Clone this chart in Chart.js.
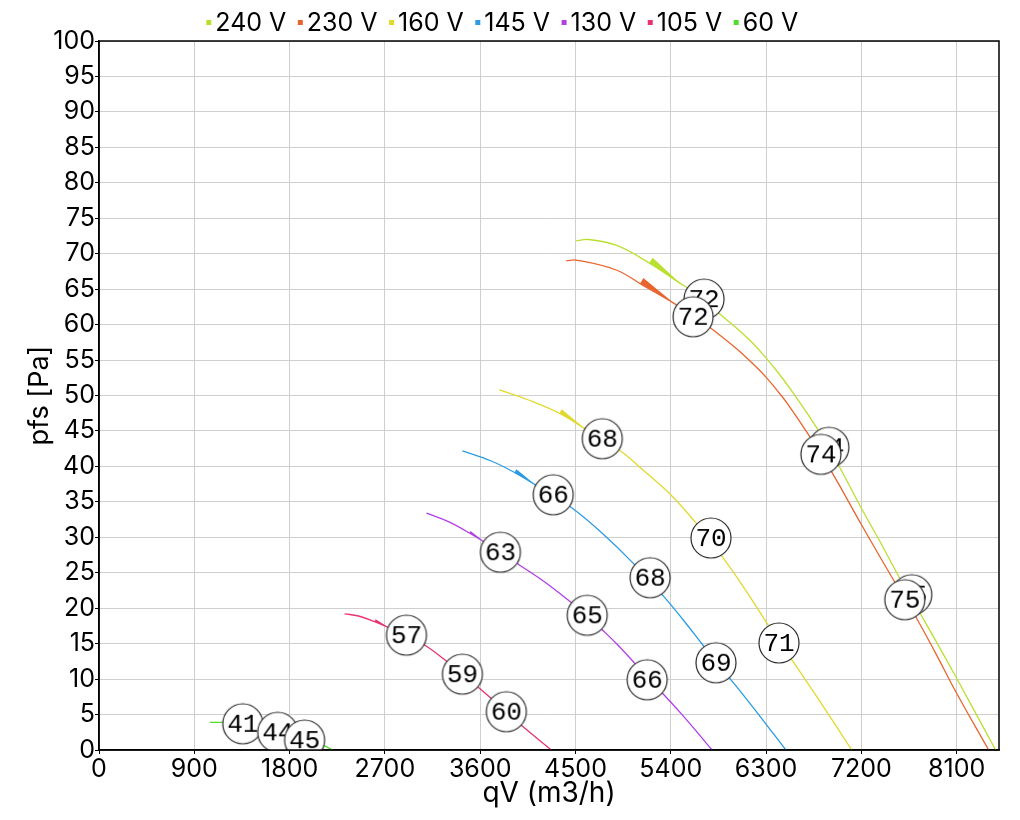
<!DOCTYPE html>
<html>
<head>
<meta charset="utf-8">
<script src="https://cdn.jsdelivr.net/npm/chart.js@4.4.1/dist/chart.umd.min.js"></script>
<style>
  html, body { margin: 0; padding: 0; background: #fff; }
  #wrap { width: 1020px; height: 820px; }
</style>
</head>
<body>
<div id="wrap"><canvas id="chart" width="1020" height="820"></canvas></div>
<script>
// Fan curves: pfs [Pa] vs qV (m3/h), one curve per supply voltage

const seriesNames = ['240 V', '230 V', '160 V', '145 V', '130 V', '105 V', '60 V'];
const seriesColors = ['#b9e02e', '#e8652f', '#e2d92e', '#2c9be4', '#b23ee6', '#e8336d', '#4fdd2e'];

const qv240 = [4507, 4620, 4884, 5196, 5450, 5714, 5856, 6060, 6180, 6299, 6420, 6540, 6780, 6987, 7204, 7380, 7553, 7770, 8090, 8468];
const pfs240 = [71.8, 72.0, 71.2, 68.7, 66.2, 63.6, 61.6, 59.0, 57.3, 55.3, 53.1, 50.7, 45.4, 40.1, 34.0, 29.3, 24.5, 18.9, 10.4, 0];

const qv230 = [4413, 4507, 4884, 5130, 5431, 5601, 5761, 6030, 6160, 6299, 6400, 6500, 6704, 6921, 7204, 7487, 7713, 7900, 8100, 8402];
const pfs230 = [69.0, 69.1, 67.7, 65.6, 63.0, 61.4, 59.7, 56.5, 54.7, 52.6, 50.8, 48.9, 44.4, 39.2, 31.7, 24.4, 18.8, 13.7, 8.0, 0];

const qv160 = [3781, 4050, 4347, 4602, 4913, 5160, 5413, 5639, 5884, 6100, 6308, 6544, 6820, 7110];
const pfs160 = [50.8, 49.4, 47.5, 45.2, 42.3, 39.2, 35.8, 32.0, 27.3, 22.7, 17.9, 12.7, 6.6, 0];

const qv145 = [3432, 3700, 3942, 4130, 4470, 4750, 5035, 5337, 5520, 5714, 5969, 6230, 6487];
const pfs145 = [42.2, 40.8, 39.0, 37.3, 34.1, 30.6, 26.5, 21.6, 18.3, 14.6, 9.9, 5.0, 0];

const qv130 = [3093, 3300, 3498, 3791, 3970, 4200, 4470, 4611, 4743, 4900, 5177, 5500, 5790];
const pfs130 = [33.4, 32.2, 30.6, 27.9, 26.1, 23.8, 20.7, 19.0, 17.1, 14.8, 10.3, 5.1, 0];

const qv105 = [2320, 2450, 2603, 2744, 2904, 3074, 3250, 3432, 3593, 3847, 3989, 4272];
const pfs105 = [19.2, 18.9, 18.1, 17.2, 16.1, 14.8, 12.9, 10.7, 8.7, 5.4, 3.5, 0];

const qv60 = [1047, 1150, 1300, 1424, 1580, 1726, 1952, 2100, 2207];
const pfs60 = [3.9, 3.9, 3.8, 3.5, 3.0, 2.3, 1.3, 0.75, 0];

// noise level bubbles (dB) on each curve
const mark240X = [5714, 6893, 7676];
const mark240Y = [63.6, 42.7, 21.9];
const mark240Lbl = ['72', '74', '75'];
const mark230X = [5611, 6818, 7610];
const mark230Y = [61.1, 41.7, 21.2];
const mark230Lbl = ['72', '74', '75'];
const mark160X = [4753, 5780, 6422];
const mark160Y = [43.9, 29.9, 15.1];
const mark160Lbl = ['68', '70', '71'];
const mark145X = [4290, 5205, 5827];
const mark145Y = [36.0, 24.3, 12.3];
const mark145Lbl = ['66', '68', '69'];
const mark130X = [3791, 4611, 5177];
const mark130Y = [27.9, 19.0, 9.9];
const mark130Lbl = ['63', '65', '66'];
const mark105X = [2904, 3432, 3847];
const mark105Y = [16.2, 10.7, 5.4];
const mark105Lbl = ['57', '59', '60'];
const mark60X = [1358, 1688, 1942];
const mark60Y = [3.7, 2.5, 1.4];
const mark60Lbl = ['41', '44', '45'];

// direction wedges: [qV, pfs] start -> tip
const arrowFrom = [[5196, 68.7], [5111, 65.8], [4347, 47.5], [3923, 39.1], [3498, 30.6], [2603, 18.1], null];
const arrowTo = [[5507, 65.6], [5431, 63.0], [4583, 45.4], [4130, 37.3], [3621, 29.6], [2744, 17.2], null];

const xMax = 8500;
const xTickVals = [0, 900, 1800, 2700, 3600, 4500, 5400, 6300, 7200, 8100];
const yMax = 100, yStep = 5;

const lineX = [qv240, qv230, qv160, qv145, qv130, qv105, qv60];
const lineY = [pfs240, pfs230, pfs160, pfs145, pfs130, pfs105, pfs60];
const markX = [mark240X, mark230X, mark160X, mark145X, mark130X, mark105X, mark60X];
const markY = [mark240Y, mark230Y, mark160Y, mark145Y, mark130Y, mark105Y, mark60Y];
const markLbl = [mark240Lbl, mark230Lbl, mark160Lbl, mark145Lbl, mark130Lbl, mark105Lbl, mark60Lbl];

const FONT = 'Inter';
const LEGEND_FONT = 25;

function makeBubble(text) {
  const c = document.createElement('canvas');
  c.width = 44; c.height = 44;
  const g = c.getContext('2d');
  g.beginPath();
  g.arc(22, 22, 20, 0, Math.PI * 2);
  g.fillStyle = '#fff';
  g.fill();
  g.lineWidth = 1.2;
  g.strokeStyle = '#2a2a2a';
  g.stroke();
  g.fillStyle = '#000';
  g.font = '26px "Liberation Mono"';
  g.textAlign = 'center';
  g.textBaseline = 'middle';
  g.fillText(text, 22, 23);
  return c;
}

const lineSets = seriesNames.map((name, i) => ({
  label: name,
  data: lineX[i].map((x, k) => ({ x, y: lineY[i][k] })),
  showLine: true,
  borderColor: seriesColors[i],
  backgroundColor: seriesColors[i],
  borderWidth: 1.3,
  pointRadius: 0,
  tension: 0.4,
  order: 20
}));

const markSets = seriesNames.map((name, i) => ({
  label: name + ' dB',
  data: markX[i].map((x, k) => ({ x, y: markY[i][k] })),
  showLine: false,
  pointStyle: markLbl[i].map(makeBubble),
  pointRadius: 20,
  pointHoverRadius: 20,
  order: 10 - i
}));

const arrowPlugin = {
  id: 'arrows',
  afterDatasetDraw(chart, args) {
    const i = args.index;
    if (i >= seriesNames.length || !arrowFrom[i]) return;
    const xs = chart.scales.x, ys = chart.scales.y;
    const bx = xs.getPixelForValue(arrowFrom[i][0]), by = ys.getPixelForValue(arrowFrom[i][1]);
    const tx = xs.getPixelForValue(arrowTo[i][0]), ty = ys.getPixelForValue(arrowTo[i][1]);
    const len = Math.hypot(tx - bx, ty - by);
    const w = len * 0.16;
    const nx = (ty - by) / len, ny = -(tx - bx) / len;
    const ctx = chart.ctx;
    ctx.save();
    ctx.beginPath();
    ctx.moveTo(bx, by);
    ctx.lineTo(bx + nx * w, by + ny * w);
    ctx.lineTo(tx, ty);
    ctx.closePath();
    ctx.fillStyle = seriesColors[i];
    ctx.fill();
    ctx.restore();
  }
};

// legend: fixed band height, small swatch sitting right against the text
const legendBandPlugin = {
  id: 'legendBand',
  beforeLayout(chart) {
    const lg = chart.legend;
    if (!lg || lg._bandPatched) return;
    const fit = lg.fit.bind(lg);
    lg.fit = function () { fit(); this.height = 37; };
    lg._bandPatched = true;
  },
  afterDraw(chart) {
    const lg = chart.legend;
    if (!lg || !lg.legendHitBoxes) return;
    const ctx = chart.ctx;
    ctx.save();
    lg.legendItems.forEach((item, k) => {
      const hb = lg.legendHitBoxes[k];
      const textX = hb.left + 1 + LEGEND_FONT / 2;
      const cy = hb.top + hb.height / 2 - 1;
      ctx.fillStyle = seriesColors[item.datasetIndex];
      ctx.fillRect(textX - 9, cy - 2.5, 5, 5);
    });
    ctx.restore();
  }
};

const framePlugin = {
  id: 'frame',
  afterDraw(chart) {
    const a = chart.chartArea, ctx = chart.ctx;
    ctx.save();
    ctx.strokeStyle = '#000';
    ctx.lineWidth = 1.5;
    ctx.strokeRect(a.left, a.top, a.right - a.left, a.bottom - a.top);
    ctx.restore();
  }
};

new Chart(document.getElementById('chart'), {
  type: 'scatter',
  data: { datasets: [...lineSets, ...markSets] },
  options: {
    responsive: false,
    animation: false,
    events: [],
    layout: { padding: { left: 0, right: 20, top: 4, bottom: 0 } },
    plugins: {
      legend: {
        position: 'top',
        labels: {
          generateLabels: chart => Chart.defaults.plugins.legend.labels.generateLabels(chart)
            .filter(it => it.datasetIndex < seriesNames.length)
            .map(it => Object.assign(it, { fillStyle: 'rgba(0,0,0,0)', strokeStyle: 'rgba(0,0,0,0)', lineWidth: 0 })),
          boxWidth: 1,
          boxHeight: 5,
          padding: 7,
          color: '#000',
          font: { family: FONT, size: LEGEND_FONT }
        }
      },
      tooltip: { enabled: false }
    },
    scales: {
      x: {
        type: 'linear',
        min: 0,
        max: xMax,
        afterFit: s => { s.height = 70; },
        afterBuildTicks: s => { s.ticks = xTickVals.map(v => ({ value: v })); },
        ticks: { autoSkip: false, maxRotation: 0, padding: 0, color: '#000', callback: v => String(v), font: { family: FONT, size: 25 } },
        grid: { color: '#cfcfcf', tickLength: 4, tickColor: '#000' },
        border: { color: '#000', width: 1.5 },
        title: { display: true, text: 'qV (m3/h)', color: '#000', padding: { top: 0, bottom: 10 }, font: { family: FONT, size: 28 } }
      },
      y: {
        min: 0,
        max: yMax,
        afterFit: s => { s.width = 99; },
        ticks: { stepSize: yStep, padding: 0, color: '#000', font: { family: FONT, size: 25 } },
        grid: { color: '#cfcfcf', tickLength: 4, tickColor: '#000' },
        border: { color: '#000', width: 1.5 },
        title: { display: true, text: 'pfs [Pa]', color: '#000', padding: { top: 24, bottom: 0 }, font: { family: FONT, size: 27 } }
      }
    }
  },
  plugins: [arrowPlugin, legendBandPlugin, framePlugin]
});
</script>
</body>
</html>
